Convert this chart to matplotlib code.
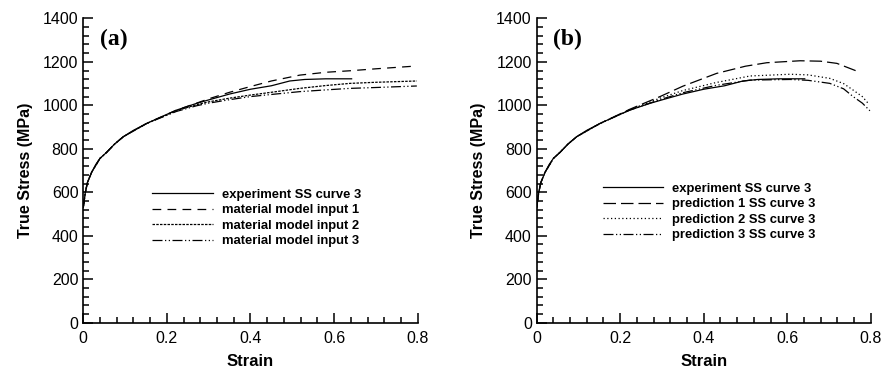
import matplotlib.pyplot as plt
from matplotlib.ticker import MultipleLocator

# ---- data ----
# experiment SS curve 3 (same test in both panels)
exp_strain = [0, 0.005, 0.01, 0.02, 0.03, 0.04, 0.056, 0.075, 0.096, 0.12, 0.152,
              0.19, 0.223, 0.271, 0.3, 0.35, 0.4, 0.45, 0.494, 0.53, 0.58, 0.642]
exp_stress = [530, 600, 645, 692, 728, 756, 784, 822, 856, 885, 917,
              950, 978, 1009, 1025, 1052, 1074, 1090, 1112, 1119, 1122, 1122]

# panel (a): material model inputs
in1_strain = [0, 0.005, 0.01, 0.02, 0.04, 0.056, 0.075, 0.096, 0.152, 0.223, 0.271,
              0.3, 0.35, 0.399, 0.45, 0.518, 0.58, 0.638, 0.7, 0.798]
in1_stress = [530, 600, 645, 692, 756, 784, 822, 856, 917, 978, 1010,
              1030, 1060, 1086, 1112, 1139, 1152, 1159, 1168, 1181]

in2_strain = [0, 0.005, 0.01, 0.02, 0.04, 0.056, 0.075, 0.096, 0.152, 0.223, 0.271,
              0.3, 0.35, 0.399, 0.45, 0.518, 0.58, 0.638, 0.7, 0.798]
in2_stress = [530, 600, 645, 692, 756, 784, 822, 856, 917, 975, 1003,
              1016, 1033, 1047, 1060, 1078, 1091, 1101, 1106, 1112]

in3_strain = [0, 0.005, 0.01, 0.02, 0.04, 0.056, 0.075, 0.096, 0.152, 0.223, 0.271,
              0.3, 0.35, 0.399, 0.45, 0.518, 0.58, 0.638, 0.7, 0.798]
in3_stress = [530, 600, 645, 692, 756, 784, 822, 856, 917, 972, 998,
              1010, 1026, 1040, 1050, 1063, 1071, 1078, 1082, 1089]

# panel (b): predictions
pr1_strain = [0, 0.005, 0.01, 0.02, 0.04, 0.056, 0.075, 0.096, 0.152, 0.223, 0.295,
              0.35, 0.431, 0.5, 0.551, 0.631, 0.68, 0.719, 0.774]
pr1_stress = [530, 600, 645, 692, 756, 784, 822, 856, 917, 982, 1040,
              1088, 1147, 1180, 1196, 1205, 1203, 1193, 1152]

pr2_strain = [0, 0.005, 0.01, 0.02, 0.04, 0.056, 0.075, 0.096, 0.152, 0.223, 0.295,
              0.35, 0.43, 0.511, 0.607, 0.65, 0.702, 0.735, 0.758, 0.78, 0.794]
pr2_stress = [530, 600, 645, 692, 756, 784, 822, 856, 917, 980, 1033,
              1068, 1105, 1135, 1143, 1140, 1124, 1100, 1070, 1040, 1009]

pr3_strain = [0, 0.005, 0.01, 0.02, 0.04, 0.056, 0.075, 0.096, 0.152, 0.223, 0.295,
              0.35, 0.43, 0.511, 0.607, 0.65, 0.702, 0.735, 0.758, 0.78, 0.798]
pr3_stress = [530, 600, 645, 692, 756, 784, 822, 856, 917, 978, 1026,
              1058, 1092, 1116, 1119, 1115, 1101, 1076, 1040, 1010, 975]

labels_a = ["experiment SS curve 3", "material model input 1",
            "material model input 2", "material model input 3"]
labels_b = ["experiment SS curve 3", "prediction 1 SS curve 3",
            "prediction 2 SS curve 3", "prediction 3 SS curve 3"]

# ---- styling ----
plt.rcParams['font.family'] = ['Liberation Sans', 'DejaVu Sans']
ls_a = ['-', (0, (7, 5)), (0, (2, 1)), (0, (8, 2, 1, 2, 1, 2))]
ls_b = ['-', (0, (10, 4)), (0, (1, 2)), (0, (8, 2, 1, 2, 1, 2))]

fig = plt.figure(figsize=(8.83, 3.71), dpi=100)
ax_a = fig.add_axes([0.0943, 0.130, 0.3787, 0.8205])
ax_b = fig.add_axes([0.6078, 0.130, 0.3783, 0.8205])


def style_axes(ax, tag):
    ax.set_xlim(0, 0.8)
    ax.set_ylim(0, 1400)
    for s in ['top', 'right']:
        ax.spines[s].set_visible(False)
    for s in ['left', 'bottom']:
        ax.spines[s].set_linewidth(1.2)
    ax.xaxis.set_major_locator(MultipleLocator(0.2))
    ax.xaxis.set_minor_locator(MultipleLocator(0.04))
    ax.yaxis.set_major_locator(MultipleLocator(200))
    ax.yaxis.set_minor_locator(MultipleLocator(40))
    ax.xaxis.set_major_formatter(plt.FuncFormatter(lambda v, p: f"{v:g}"))
    ax.tick_params(which='both', direction='in', width=1.1, labelsize=11.5)
    ax.tick_params(which='major', length=7)
    ax.tick_params(which='minor', length=4)
    ax.tick_params(axis='y', pad=3.5)
    ax.tick_params(axis='x', pad=6)
    ax.set_xlabel("Strain", fontsize=12, fontweight='bold', labelpad=6)
    ax.set_ylabel("True Stress (MPa)", fontsize=11.5, fontweight='bold', labelpad=7)
    ax.text(0.05, 0.932, tag, transform=ax.transAxes, fontsize=17,
            fontweight='bold', family='Liberation Serif', va='center', ha='left')


lw = 0.9
ax_a.plot(exp_strain, exp_stress, color='black', lw=lw, ls=ls_a[0], label=labels_a[0])
ax_a.plot(in1_strain, in1_stress, color='black', lw=lw, ls=ls_a[1], label=labels_a[1])
ax_a.plot(in2_strain, in2_stress, color='black', lw=lw, ls=ls_a[2], label=labels_a[2])
ax_a.plot(in3_strain, in3_stress, color='black', lw=lw, ls=ls_a[3], label=labels_a[3])
style_axes(ax_a, "(a)")
ax_a.legend(loc='upper left', bbox_to_anchor=(0.207, 0.44), frameon=False,
            handlelength=4.6, handletextpad=0.7, labelspacing=0.25,
            borderpad=0, borderaxespad=0,
            prop={'weight': 'bold', 'size': 9.4})

ax_b.plot(exp_strain, exp_stress, color='black', lw=lw, ls=ls_b[0], label=labels_b[0])
ax_b.plot(pr1_strain, pr1_stress, color='black', lw=lw, ls=ls_b[1], label=labels_b[1])
ax_b.plot(pr2_strain, pr2_stress, color='black', lw=lw, ls=ls_b[2], label=labels_b[2])
ax_b.plot(pr3_strain, pr3_stress, color='black', lw=lw, ls=ls_b[3], label=labels_b[3])
style_axes(ax_b, "(b)")
ax_b.legend(loc='upper left', bbox_to_anchor=(0.198, 0.46), frameon=False,
            handlelength=4.6, handletextpad=0.7, labelspacing=0.25,
            borderpad=0, borderaxespad=0,
            prop={'weight': 'bold', 'size': 9.4})

fig.savefig("out.png", dpi=100)
